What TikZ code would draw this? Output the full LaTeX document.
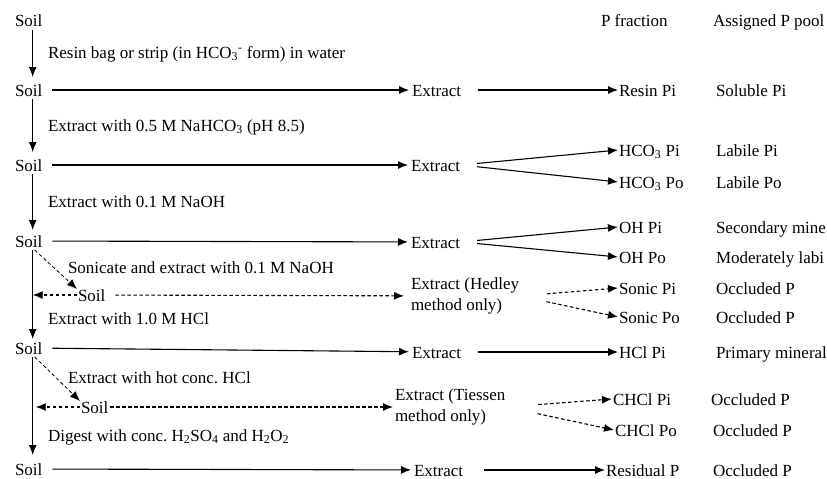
\documentclass[tikz,border=0pt]{standalone}
\usepackage{fontspec}
\setmainfont{Liberation Serif}
\usetikzlibrary{arrows.meta}
\frenchspacing

\begin{document}
\begin{tikzpicture}[x=1pt, y=-1pt,
    lbl/.style ={inner sep=0pt, outer sep=1pt, anchor=west, font=\fontsize{17}{21}\selectfont},
    txt/.style ={lbl, text height=14pt, text depth=2pt},
    twoline/.style ={lbl, align=left},
    flow/.style ={line width=1.1pt, -{Latex[length=10pt,width=8pt]}},
    side/.style ={flow, dash pattern=on 3.5pt off 2.5pt}]
   \useasboundingbox (0,0) rectangle (827,479);
   % soil column
   \node[txt] (s0) at (14,21)  {Soil};
   \node[txt] (s1) at (14,90)  {Soil};
   \node[txt] (s2) at (14,165) {Soil};
   \node[txt] (s3) at (14,241) {Soil};
   \node[txt] (s4) at (77,295) {Soil};
   \node[txt] (s5) at (14,348) {Soil};
   \node[txt] (s6) at (80,407) {Soil};
   \node[txt] (s7) at (14,469) {Soil};
   % steps
   \node[txt] (t1) at (47,52)  {Resin bag or strip (in HCO\textsubscript{3}\textsuperscript{-} form) in water};
   \node[txt] (t2) at (47,125) {Extract with 0.5 M NaHCO\textsubscript{3} (pH 8.5)};
   \node[txt] (t3) at (47,201) {Extract with 0.1 M NaOH};
   \node[txt] (t4) at (67,267) {Sonicate and extract with 0.1 M NaOH};
   \node[txt] (t5) at (47,318) {Extract with 1.0 M HCl};
   \node[txt] (t6) at (67,377) {Extract with hot conc. HCl};
   \node[txt] (t7) at (47,435) {Digest with conc. H\textsubscript{2}SO\textsubscript{4} and H\textsubscript{2}O\textsubscript{2}};
   % extracts
   \node[txt] (e1) at (411,90)  {Extract};
   \node[txt] (e2) at (410,165) {Extract};
   \node[txt] (e3) at (410,242) {Extract};
   \node[twoline] (hedley) at (410,296) {Extract (Hedley\\method only)};
   \node[txt] (e5) at (411,352) {Extract};
   \node[twoline] (tiessen) at (394,407) {Extract (Tiessen\\method only)};
   \node[txt] (e7) at (413,470) {Extract};
   % fractions
   \node[txt] (frac) at (600,21) {P fraction};
   \node[txt] (resinpi) at (618,90)  {Resin Pi};
   \node[txt] (hcopi)   at (618,150) {HCO\textsubscript{3} Pi};
   \node[txt] (hcopo)   at (618,182) {HCO\textsubscript{3} Po};
   \node[txt] (ohpi)    at (618,227) {OH Pi};
   \node[txt] (ohpo)    at (618,257) {OH Po};
   \node[txt] (sonicpi) at (618,288) {Sonic Pi};
   \node[txt] (sonicpo) at (618,317) {Sonic Po};
   \node[txt] (hclpi)   at (618,352) {HCl Pi};
   \node[txt] (chclpi)  at (612,399) {CHCl Pi};
   \node[txt] (chclpo)  at (614,430) {CHCl Po};
   \node[txt] (resid)   at (605,470) {Residual P};
   % pools
   \node[txt] (pool) at (712,21) {Assigned P pool};
   \node[txt] (p1) at (715,90)  {Soluble Pi};
   \node[txt] (p2) at (715,150) {Labile Pi};
   \node[txt] (p3) at (715,182) {Labile Po};
   \node[txt] (p4) at (715,227) {Secondary mine};
   \node[txt] (p5) at (715,257) {Moderately labi};
   \node[txt] (p6) at (715,288) {Occluded P};
   \node[txt] (p7) at (715,317) {Occluded P};
   \node[txt] (p8) at (715,352) {Primary mineral};
   \node[txt] (p9) at (710,399) {Occluded P};
   \node[txt] (p10) at (712,430) {Occluded P};
   \node[txt] (p11) at (712,470) {Occluded P};
   % vertical arrows
   \draw[flow, shorten >=4pt] ([xshift=4pt]s0.south) to ([xshift=4pt]s1.north);
   \draw[flow, shorten >=4pt] ([xshift=4pt]s1.south) to ([xshift=4pt]s2.north);
   \draw[flow, shorten >=2pt] ([xshift=4pt]s2.south) to ([xshift=4pt]s3.north);
   \draw[flow] ([xshift=4pt]s3.south) to ([xshift=4pt]s5.north);
   \draw[flow, shorten >=5pt] ([xshift=4pt]s5.south) to ([xshift=4pt]s7.north);
   % soil to extract
   \draw[flow, shorten <=9pt, shorten >=2pt] (s1) to (e1);
   \draw[flow, shorten <=9pt, shorten >=2pt] (s2) to (e2);
   \draw[flow, shorten <=9pt, shorten >=2pt] (s3) to (e3);
   \draw[flow, shorten <=9pt, shorten >=2pt] (s5) to (e5);
   \draw[flow, shorten <=9pt, shorten >=2pt] (s7) to (e7);
   % extract to fraction
   \draw[flow, shorten <=16pt] (e1) to (resinpi);
   \draw[flow, shorten <=16pt] (e2.east) to (hcopi.west);
   \draw[flow, shorten <=16pt] (e2.east) to (hcopo.west);
   \draw[flow, shorten <=16pt] (e3.east) to (ohpi.west);
   \draw[flow, shorten <=16pt] (e3.east) to (ohpo.west);
   \draw[flow, shorten <=16pt] (e5) to (hclpi);
   \draw[flow, shorten <=20pt] (e7) to (resid);
   % side steps
   \draw[side, line width=0.8pt] ([xshift=6pt]s3.south) to ([yshift=-3pt]s4.north west);
   \draw[side] (s4.west) to ([xshift=4pt]s3.south |- s4.west);
   \draw[side, shorten <=9pt, shorten >=6pt] (s4) to (hedley);
   \draw[side, shorten <=27pt] (hedley.east) to (sonicpi.west);
   \draw[side, shorten <=27pt] (hedley.east) to (sonicpo.west);
   \draw[side, line width=0.8pt] ([xshift=6pt]s5.south) to ([yshift=-3pt]s6.north west);
   \draw[side, shorten >=3pt] (s6.west) to ([xshift=4pt]s5.south |- s6.west);
   \draw[side, shorten <=1pt, shorten >=1pt] (s6) to (tiessen);
   \draw[side, shorten <=32pt] (tiessen.east) to (chclpi.west);
   \draw[side, shorten <=32pt] (tiessen.east) to (chclpo.west);
\end{tikzpicture}
\end{document}
